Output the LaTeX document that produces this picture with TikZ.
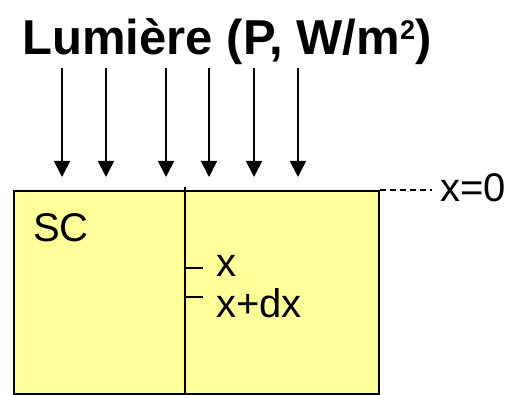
\documentclass[tikz,border=0pt]{standalone}
\usepackage{fontspec}
\setmainfont{Liberation Sans}
\usetikzlibrary{arrows.meta}
\definecolor{scyellow}{HTML}{FFFF99}
\tikzset{
  lbl/.style={inner sep=0pt, font=\fontsize{40}{47}\selectfont},
  ray/.style={line width=1.5pt, -{Triangle[width=16pt,length=16pt]}},
  edge/.style={line width=2pt},
}
\begin{document}
\begin{tikzpicture}[x=1pt,y=-1pt]
\useasboundingbox (0,0) rectangle (514,395);
\node[inner sep=0pt, anchor=base, font=\fontsize{49}{56}\selectfont\bfseries] (title) at (227,55) {Lumière (P, W/m\raisebox{15pt}{\fontsize{27}{30}\selectfont\bfseries 2})};
\node[draw=black, edge, fill=scyellow, minimum width=365pt, minimum height=203pt, inner sep=0pt, anchor=north west] (sc) at (13,190) {};
\node[lbl, anchor=base west] (sclbl) at (33,242) {SC};
\coordinate (vtop) at (185,187);
\coordinate (vbot) at (185,393);
\draw[edge] (vtop) -- (vbot);
\foreach \i/\xx in {1/62,2/106,3/166,4/209,5/254,6/298}{
  \coordinate (s\i) at (\xx,68);
  \coordinate (e\i) at (\xx,177);
  \draw[ray] (s\i) -- (e\i);
}
\node[lbl, anchor=base west] (xzero) at (440,202) {x=0};
\draw[line width=1.5pt, dash pattern=on 6pt off 4pt] (sc.north east) -- (432,190);
\node[lbl, anchor=base west] (xlbl) at (216,277) {x};
\node[lbl, anchor=base west] (xdx) at (216,317) {x+dx};
\coordinate (t1a) at (185,268);
\coordinate (t1b) at (203,268);
\coordinate (t2a) at (185,297);
\coordinate (t2b) at (203,297);
\draw[edge] (t1a) -- (t1b);
\draw[edge] (t2a) -- (t2b);
\end{tikzpicture}
\end{document}
